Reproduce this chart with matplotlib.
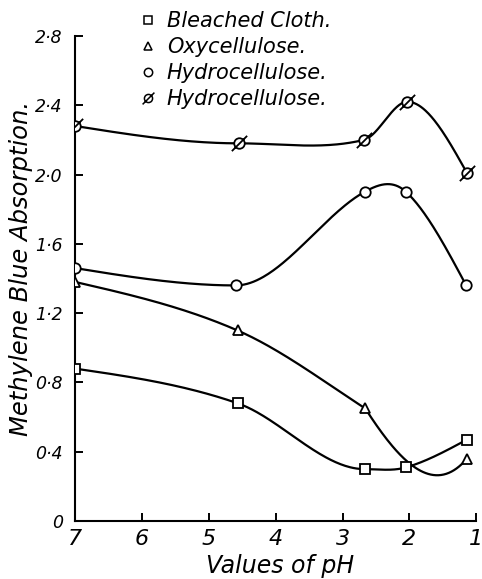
import numpy as np
import matplotlib
matplotlib.use("Agg")
import matplotlib.pyplot as plt
from matplotlib.path import Path
from matplotlib.lines import Line2D

# pH values at which each material was measured
ph_bleached = [7.0, 4.57, 2.67, 2.05, 1.14]
ph_oxy = [7.0, 4.57, 2.66, 1.14]
ph_hydro = [7.0, 4.60, 2.67, 2.05, 1.15]
ph_hydro2 = [7.0, 4.55, 2.68, 2.03, 1.14]

# methylene blue absorption
abs_bleached = [0.88, 0.68, 0.30, 0.31, 0.47]
abs_oxy = [1.38, 1.10, 0.65, 0.36]
abs_hydro = [1.46, 1.36, 1.90, 1.90, 1.36]
abs_hydro2 = [2.28, 2.18, 2.20, 2.42, 2.01]

labels = ["Bleached Cloth.", "Oxycellulose.", "Hydrocellulose.", "Hydrocellulose."]

y_ticks = [0.0, 0.4, 0.8, 1.2, 1.6, 2.0, 2.4, 2.8]
y_ticklabels = ["0", "0·4", "0·8", "1·2", "1·6", "2·0", "2·4", "2·8"]
x_ticks = [7, 6, 5, 4, 3, 2, 1]
x_ticklabels = ["7", "6", "5", "4", "3", "2", "1"]

# hand-drawn curve shaping: (incoming, outgoing) tangent, d absorption / d pH,
# forced at given point indices
oxy_tangents = {2: (0.25, 0.6), 3: (-0.45, -0.45)}


def smooth_curve(xs, ys, forced=None, n=80):
    """Cubic Hermite curve through the points.

    Catmull-Rom tangents, flattened at strict local extrema."""
    x = np.asarray(xs, float)
    y = np.asarray(ys, float)
    m = np.empty_like(y)
    d = np.diff(y) / np.diff(x)
    m[1:-1] = (y[2:] - y[:-2]) / (x[2:] - x[:-2])
    for i in range(1, len(x) - 1):
        if d[i - 1] * d[i] < 0:
            m[i] = 0.0
    m[0] = 1.5 * d[0] - 0.5 * m[1]
    m[-1] = 1.5 * d[-1] - 0.5 * m[-2]
    m_in = m.copy()
    m_out = m.copy()
    if forced:
        for i, (a, b) in forced.items():
            m_in[i] = a
            m_out[i] = b
    px, py = [], []
    t = np.linspace(0, 1, n)
    h00 = 2 * t**3 - 3 * t**2 + 1
    h10 = t**3 - 2 * t**2 + t
    h01 = -2 * t**3 + 3 * t**2
    h11 = t**3 - t**2
    for i in range(len(x) - 1):
        h = x[i + 1] - x[i]
        px.append(x[i] + h * t)
        py.append(h00 * y[i] + h10 * h * m_out[i] + h01 * y[i + 1]
                  + h11 * h * m_in[i + 1])
    return np.concatenate(px), np.concatenate(py)


# circle with a diagonal stroke
slashed_circle = Path.make_compound_path(
    Path.unit_circle(),
    Path([(-1.45, -1.45), (1.45, 1.45)], [Path.MOVETO, Path.LINETO]),
)

plt.rcParams["font.family"] = ["DejaVu Sans"]
plt.rcParams["font.style"] = "italic"

fig = plt.figure(figsize=(4.82, 5.79), dpi=100)
ax = fig.add_axes([0.156, 0.100, 0.832, 0.838])

series = [
    (ph_bleached, abs_bleached, None, "s", 7.0, 5.5),
    (ph_oxy, abs_oxy, oxy_tangents, "^", 7.5, 6.0),
    (ph_hydro, abs_hydro, None, "o", 7.5, 6.0),
    (ph_hydro2, abs_hydro2, None, slashed_circle, 11.0, 8.5),
]

handles = []
for (xs, ys, forced, mk, ms, lms), lab in zip(series, labels):
    cx, cy = smooth_curve(xs, ys, forced)
    ax.plot(cx, cy, color="black", lw=1.6, solid_capstyle="round", zorder=2)
    ax.plot(xs, ys, linestyle="none", marker=mk, markersize=ms,
            markerfacecolor="white", markeredgecolor="black",
            markeredgewidth=1.3, zorder=3)
    handles.append(Line2D([], [], linestyle="none", marker=mk, markersize=lms,
                          markerfacecolor="white", markeredgecolor="black",
                          markeredgewidth=1.1, label=lab))

ax.set_xlim(7, 1)
ax.set_ylim(0, 2.8)
ax.set_xticks(x_ticks)
ax.set_xticklabels(x_ticklabels, fontsize=16)
ax.set_yticks(y_ticks)
ax.set_yticklabels(y_ticklabels, fontsize=12.5)
ax.tick_params(axis="both", direction="in", length=6, width=1.4, color="black")
ax.tick_params(axis="x", pad=6)
ax.tick_params(axis="y", pad=9)

for side in ("top", "right"):
    ax.spines[side].set_visible(False)
for side in ("left", "bottom"):
    ax.spines[side].set_linewidth(1.5)

ax.set_xlabel("Values of pH", fontsize=17)
ax.xaxis.set_label_coords(0.51, -0.068)
ax.set_ylabel("Methylene Blue Absorption.", fontsize=17.5)
ax.yaxis.set_label_coords(-0.105, 0.52)

fig.legend(handles=handles, loc="upper left",
           bbox_to_anchor=(125 / 482, 1 + 1 / 579),
           frameon=False, fontsize=15, handletextpad=0.4,
           labelspacing=0.28, borderpad=0.1, handlelength=1.0)

fig.savefig("out.png", dpi=100)
